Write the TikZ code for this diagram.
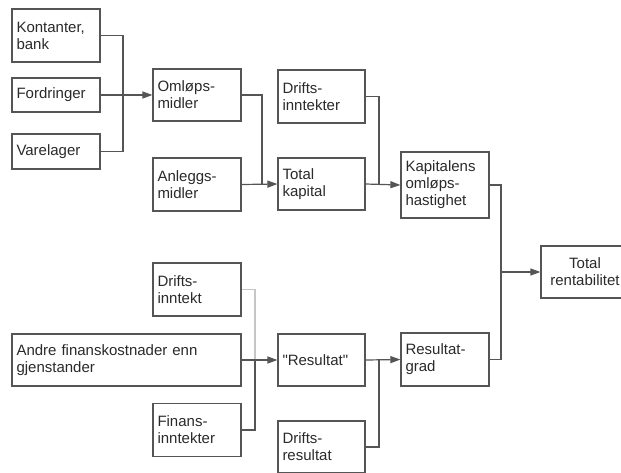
\documentclass[tikz,border=0pt]{standalone}
\usepackage{fontspec}
\setmainfont{Liberation Sans}[Ligatures=TeXOff]
\usetikzlibrary{arrows.meta}
\definecolor{boxline}{HTML}{555555}
\definecolor{txt}{HTML}{2A2A2A}
\tikzset{
  bx/.style={draw=boxline, line width=1.2pt, text=txt, inner xsep=4.5pt, inner ysep=0pt,
    align=left, font=\fontsize{15}{17}\selectfont},
  w88/.style={minimum width=88pt, text width=79pt},
  w87/.style={minimum width=87pt, text width=78pt},
  conn/.style={draw=boxline, line width=1.2pt},
  arr/.style={conn, -{Triangle[length=10pt,width=7pt]}},
  faint/.style={draw=gray!45, line width=1.2pt}
}
\begin{document}
\begin{tikzpicture}[x=1pt,y=-1pt]
\useasboundingbox (0,0) rectangle (621,472);
\clip (0,0) rectangle (621,472);
\fill[white] (0,0) rectangle (621,472);
% left column
\node[bx,w88,minimum height=53pt] (kb) at (56,35.5) {Kontanter,\\bank};
\node[bx,w88,minimum height=34pt] (fo) at (56,95) {Fordringer};
\node[bx,w88,minimum height=35pt] (va) at (56,151.5) {Varelager};
% second column
\node[bx,w88,minimum height=52pt] (om) at (197,95) {Omløps-\\midler};
\node[bx,w88,minimum height=53pt] (an) at (197,184.5) {Anleggs-\\midler};
% third column
\node[bx,w87,minimum height=53pt] (di) at (321.5,96.5) {Drifts-\\inntekter};
\node[bx,w87,minimum height=52pt] (tk) at (321.5,184) {Total\\kapital};
% fourth column
\node[bx,w88,minimum height=66pt] (ka) at (445,185) {Kapitalens\\omløps-\\hastighet};
\node[bx,minimum width=88pt,text width=79pt,align=center,minimum height=52pt] (tr) at (585,272) {Total\\rentabilitet};
% lower part
\node[bx,w88,minimum height=53pt] (dinn) at (197,289.5) {Drifts-\\inntekt};
\node[bx,minimum width=229pt,text width=220pt,minimum height=52pt] (an2) at (126.5,360) {Andre finanskostnader enn\\gjenstander};
\node[bx,w88,minimum height=53pt] (fi) at (197,430) {Finans-\\inntekter};
\node[bx,w87,minimum height=52pt] (res) at (321.5,360) {"Resultat"};
\node[bx,w87,minimum height=52pt] (dr) at (321.5,447) {Drifts-\\resultat};
\node[bx,w88,minimum height=53pt] (rg) at (445,359.5) {Resultat-\\grad};
% junctions
\coordinate (j1) at (123,95);
\coordinate (j2) at (262,184);
\coordinate (j3) at (379,184);
\coordinate (j4) at (501,272);
\coordinate (j5) at (255,360);
\coordinate (j6) at (379,360);
% connectors
\draw[conn] (kb.east) -| (j1);
\draw[conn] (va.east) -| (j1);
\draw[arr] (fo.east) -- (om.west);
\draw[conn] (om.east) -| (j2);
\draw[arr] (an.east) -- (tk.west);
\draw[conn] (di.east) -| (j3);
\draw[arr] (tk.east) -- (ka.west);
\draw[conn] (ka.east) -| (j4);
\draw[conn] (rg.east) -| (j4);
\draw[arr] (j4) -- (tr.west);
\draw[faint] (dinn.east) -| (j5);
\draw[conn] (fi.east) -| (j5);
\draw[arr] (an2.east) -- (res.west);
\draw[conn] (dr.east) -| (j6);
\draw[arr] (res.east) -- (rg.west);
\end{tikzpicture}
\end{document}
